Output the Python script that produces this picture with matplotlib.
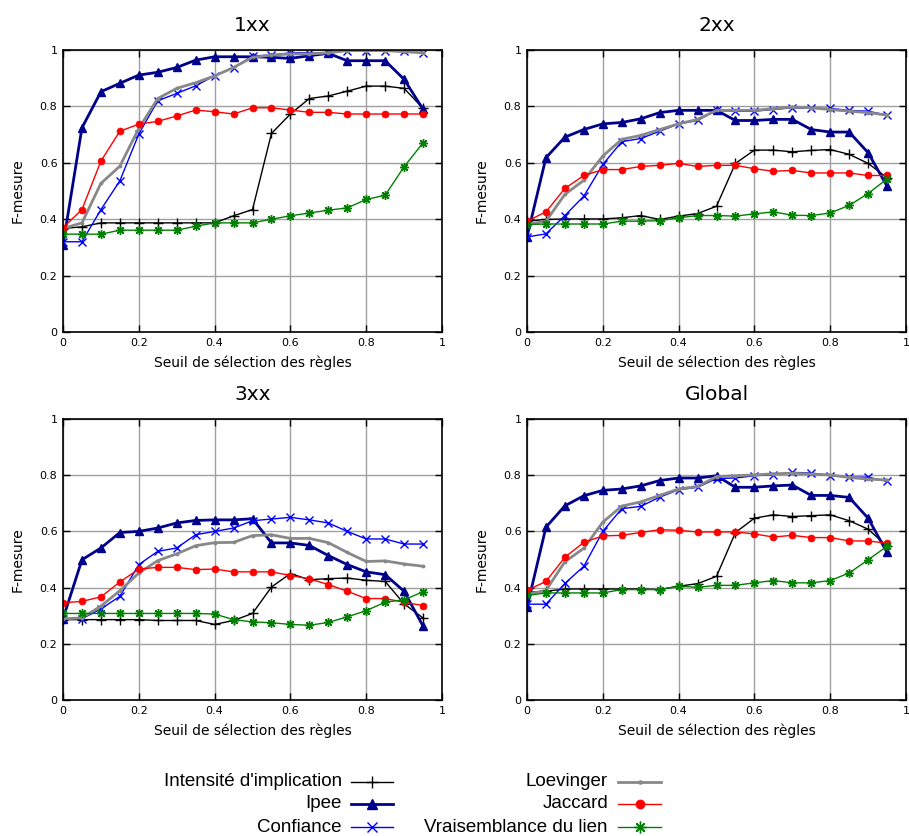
import numpy as np
import matplotlib
matplotlib.use("Agg")
import matplotlib.pyplot as plt
from matplotlib.lines import Line2D
from matplotlib.ticker import FormatStrFormatter, MultipleLocator

# seuils 0, 0.05, ..., 0.95
seuils = [0.0, 0.05, 0.1, 0.15, 0.2, 0.25, 0.3, 0.35, 0.4, 0.45,
          0.5, 0.55, 0.6, 0.65, 0.7, 0.75, 0.8, 0.85, 0.9, 0.95]

titles = ["1xx", "2xx", "3xx", "Global"]
measures = ["Intensité d'implication", "Ipee", "Confiance",
            "Loevinger", "Jaccard", "Vraisemblance du lien"]

# 1xx
intens_1 = [0.367, 0.373, 0.387, 0.387, 0.387, 0.387, 0.387, 0.387, 0.387, 0.412,
            0.434, 0.704, 0.773, 0.828, 0.837, 0.854, 0.872, 0.872, 0.864, 0.793]
ipee_1 = [0.308, 0.724, 0.852, 0.882, 0.911, 0.921, 0.938, 0.964, 0.976, 0.976,
          0.976, 0.974, 0.970, 0.980, 0.988, 0.962, 0.962, 0.962, 0.896, 0.790]
conf_1 = [0.320, 0.320, 0.434, 0.536, 0.702, 0.820, 0.846, 0.873, 0.909, 0.937,
          0.979, 0.982, 0.990, 0.990, 0.988, 0.998, 0.998, 0.998, 0.998, 0.988]
loev_1 = [0.367, 0.387, 0.527, 0.588, 0.722, 0.828, 0.864, 0.884, 0.908, 0.938,
          0.974, 0.982, 0.986, 0.986, 0.990, 0.998, 0.998, 0.998, 0.994, 0.990]
jacc_1 = [0.370, 0.434, 0.606, 0.712, 0.737, 0.747, 0.766, 0.787, 0.781, 0.773,
          0.795, 0.795, 0.787, 0.779, 0.779, 0.773, 0.773, 0.773, 0.773, 0.773]
vrais_1 = [0.347, 0.347, 0.347, 0.361, 0.361, 0.361, 0.361, 0.375, 0.387, 0.387,
           0.387, 0.400, 0.412, 0.422, 0.432, 0.440, 0.470, 0.485, 0.586, 0.671]

# 2xx
intens_2 = [0.393, 0.399, 0.401, 0.401, 0.401, 0.405, 0.413, 0.399, 0.411, 0.420,
            0.446, 0.598, 0.645, 0.645, 0.639, 0.644, 0.647, 0.630, 0.598, 0.547]
ipee_2 = [0.337, 0.618, 0.691, 0.718, 0.738, 0.743, 0.756, 0.778, 0.786, 0.786,
          0.786, 0.750, 0.750, 0.754, 0.754, 0.718, 0.709, 0.709, 0.636, 0.517]
conf_2 = [0.337, 0.348, 0.413, 0.482, 0.594, 0.675, 0.686, 0.712, 0.738, 0.750,
          0.786, 0.783, 0.783, 0.789, 0.795, 0.793, 0.793, 0.786, 0.783, 0.769]
loev_2 = [0.381, 0.393, 0.488, 0.538, 0.624, 0.683, 0.697, 0.718, 0.738, 0.754,
          0.786, 0.786, 0.786, 0.792, 0.798, 0.795, 0.789, 0.783, 0.778, 0.769]
jacc_2 = [0.393, 0.426, 0.509, 0.555, 0.576, 0.576, 0.587, 0.591, 0.598, 0.587,
          0.591, 0.591, 0.579, 0.570, 0.573, 0.564, 0.564, 0.564, 0.555, 0.555]
vrais_2 = [0.381, 0.383, 0.383, 0.383, 0.383, 0.393, 0.393, 0.395, 0.405, 0.413,
           0.413, 0.411, 0.419, 0.426, 0.414, 0.413, 0.422, 0.449, 0.491, 0.543]

# 3xx
intens_3 = [0.286, 0.286, 0.286, 0.286, 0.286, 0.283, 0.283, 0.283, 0.269, 0.283,
            0.308, 0.402, 0.450, 0.428, 0.432, 0.434, 0.426, 0.422, 0.342, 0.292]
ipee_3 = [0.289, 0.499, 0.541, 0.596, 0.600, 0.612, 0.630, 0.639, 0.641, 0.641,
          0.645, 0.559, 0.559, 0.550, 0.514, 0.482, 0.456, 0.446, 0.387, 0.263]
conf_3 = [0.289, 0.289, 0.324, 0.369, 0.482, 0.529, 0.541, 0.588, 0.600, 0.612,
          0.638, 0.644, 0.650, 0.641, 0.630, 0.600, 0.573, 0.573, 0.555, 0.555]
loev_3 = [0.289, 0.292, 0.334, 0.389, 0.452, 0.496, 0.520, 0.549, 0.560, 0.561,
          0.585, 0.588, 0.575, 0.575, 0.560, 0.525, 0.493, 0.495, 0.484, 0.476]
jacc_3 = [0.346, 0.351, 0.367, 0.420, 0.466, 0.472, 0.472, 0.464, 0.466, 0.456,
          0.456, 0.456, 0.443, 0.431, 0.411, 0.387, 0.361, 0.361, 0.348, 0.336]
vrais_3 = [0.308, 0.308, 0.308, 0.308, 0.308, 0.308, 0.308, 0.308, 0.306, 0.286,
           0.278, 0.275, 0.269, 0.266, 0.276, 0.296, 0.318, 0.348, 0.357, 0.385]

# Global
intens_g = [0.383, 0.387, 0.395, 0.395, 0.395, 0.395, 0.395, 0.393, 0.405, 0.414,
            0.440, 0.596, 0.647, 0.659, 0.653, 0.656, 0.659, 0.638, 0.608, 0.547]
ipee_g = [0.330, 0.615, 0.691, 0.727, 0.746, 0.751, 0.762, 0.781, 0.790, 0.790,
          0.798, 0.757, 0.757, 0.762, 0.765, 0.728, 0.728, 0.721, 0.647, 0.525]
conf_g = [0.341, 0.341, 0.415, 0.476, 0.600, 0.681, 0.689, 0.722, 0.748, 0.757,
          0.788, 0.790, 0.798, 0.802, 0.810, 0.808, 0.798, 0.793, 0.793, 0.778]
loev_g = [0.376, 0.390, 0.492, 0.540, 0.633, 0.690, 0.705, 0.728, 0.751, 0.760,
          0.795, 0.798, 0.801, 0.805, 0.807, 0.804, 0.801, 0.792, 0.786, 0.783]
jacc_g = [0.390, 0.422, 0.508, 0.561, 0.584, 0.586, 0.596, 0.606, 0.604, 0.598,
          0.598, 0.598, 0.591, 0.580, 0.586, 0.578, 0.578, 0.566, 0.566, 0.558]
vrais_g = [0.372, 0.381, 0.381, 0.381, 0.381, 0.393, 0.393, 0.393, 0.405, 0.401,
           0.408, 0.408, 0.417, 0.425, 0.417, 0.417, 0.425, 0.452, 0.499, 0.547]

panels = [
    [intens_1, ipee_1, conf_1, loev_1, jacc_1, vrais_1],
    [intens_2, ipee_2, conf_2, loev_2, jacc_2, vrais_2],
    [intens_3, ipee_3, conf_3, loev_3, jacc_3, vrais_3],
    [intens_g, ipee_g, conf_g, loev_g, jacc_g, vrais_g],
]

# gnuplot-like styles
styles = [
    dict(color="black", lw=1.0, marker="+", ms=7, mew=1.0),
    dict(color="#00008b", lw=2.0, marker="^", ms=5.5, mew=1.0),
    dict(color="#0000ff", lw=1.0, marker="x", ms=6, mew=1.0),
    dict(color="#888888", lw=2.0, marker=".", ms=3.5, mew=1.0),
    dict(color="#ff0000", lw=1.0, marker="o", ms=5, mew=0.5),
    dict(color="#008000", lw=1.0, marker=(8, 2, 0), ms=6.5, mew=1.0),
]

W, H = 909, 836
fig = plt.figure(figsize=(W / 100, H / 100), dpi=100)

# axes boxes in pixels: left, top, right, bottom
boxes = [(63, 50, 442, 332), (527, 50, 906, 332),
         (63, 419, 442, 700), (527, 419, 906, 700)]

for k, (l, t, r, b) in enumerate(boxes):
    ax = fig.add_axes([l / W, 1 - b / H, (r - l) / W, (b - t) / H])
    for series, st in zip(panels[k], styles):
        ax.plot(seuils, series, **st)
    ax.set_xlim(0, 1)
    ax.set_ylim(0, 1)
    ax.xaxis.set_major_locator(MultipleLocator(0.2))
    ax.yaxis.set_major_locator(MultipleLocator(0.2))
    ax.xaxis.set_major_formatter(FormatStrFormatter("%g"))
    ax.yaxis.set_major_formatter(FormatStrFormatter("%g"))
    ax.grid(True, color="#a0a0a0", lw=1.0)
    ax.set_axisbelow(True)
    ax.tick_params(direction="in", length=5, width=1, labelsize=8,
                   top=True, right=True, pad=4)
    for sp in ax.spines.values():
        sp.set_linewidth(1.2)
    ax.set_title(titles[k], fontsize=14.5, pad=14)
    ax.set_xlabel("Seuil de sélection des règles", fontsize=10, labelpad=6)
    ax.set_ylabel("F-mesure", fontsize=10, labelpad=11)

# legend drawn by hand: labels right-aligned, sample to the right
rows_y = [782, 804, 827]
cols = [(342, 351, 393), (608, 618, 661)]
for i, (name, st) in enumerate(zip(measures, styles)):
    c = cols[i // 3]
    y = 1 - rows_y[i % 3] / H
    fig.text(c[0] / W, y, name, ha="right", va="center", fontsize=13.5,
             family="Liberation Sans")
    x0, x1 = c[1] / W, c[2] / W
    hs = dict(st)
    hs["ms"] = st["ms"] * 1.3
    fig.add_artist(Line2D([x0, (x0 + x1) / 2, x1], [y, y, y],
                          transform=fig.transFigure, markevery=[1], **hs))

fig.savefig("out.png", dpi=100)
